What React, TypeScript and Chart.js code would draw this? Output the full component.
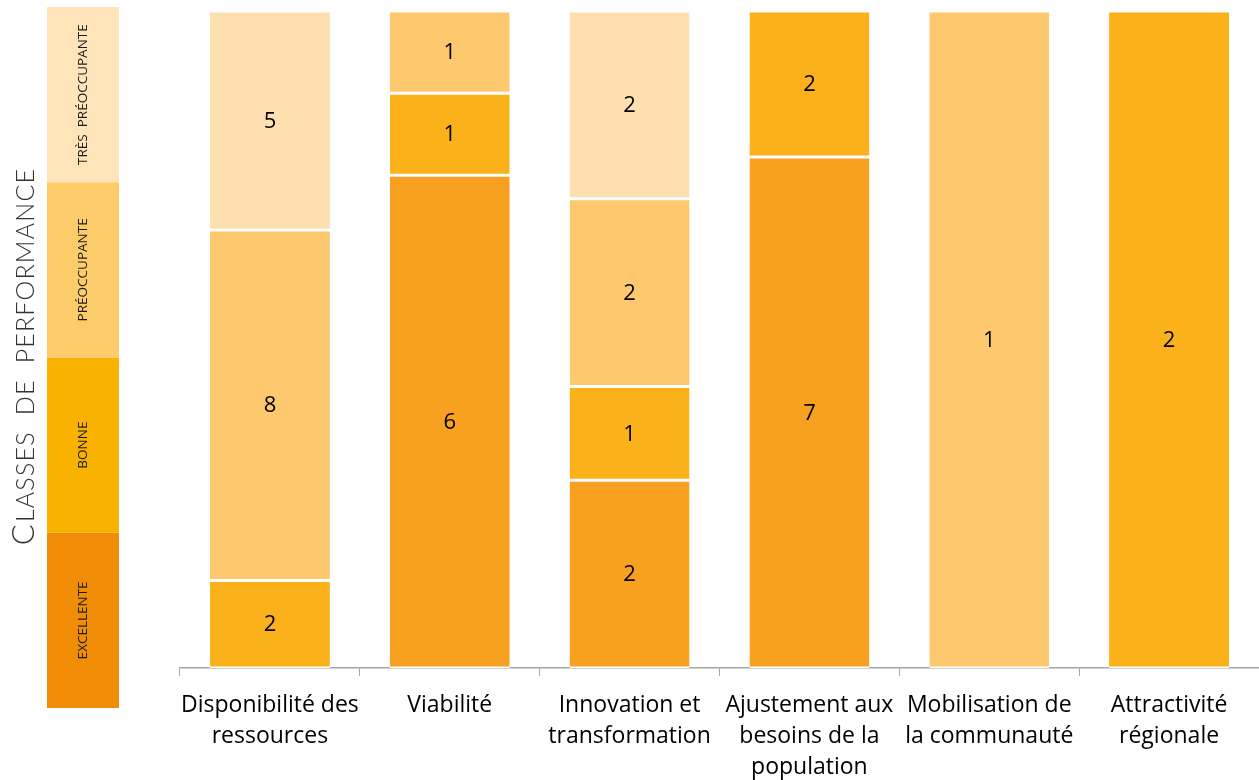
import React, { useEffect, useRef } from "react";
import { Chart, registerables } from "chart.js";

Chart.register(...registerables);

const categories: string[][] = [
  ["Disponibilité des", "ressources"],
  ["Viabilité"],
  ["Innovation et", "transformation"],
  ["Ajustement aux", "besoins de la", "population"],
  ["Mobilisation de", "la communauté"],
  ["Attractivité", "régionale"],
];

const classNames = ["Excellente", "Bonne", "Préoccupante", "Très préoccupante"];
const stripLabels = ["EXCELLENTE", "BONNE", "PRÉOCCUPANTE", "TRÈS  PRÉOCCUPANTE"];

const excellente = [0, 6, 2, 7, 0, 0];
const bonne = [2, 1, 1, 2, 0, 2];
const preoccupante = [8, 1, 2, 0, 1, 0];
const tresPreoccupante = [5, 0, 2, 0, 0, 0];

const barColors = ["#F8A020", "#FBB21A", "#FEC96E", "#FEE0B0"];
const stripColors = ["#F08C05", "#F9B200", "#FDCC6A", "#FEE4B8"];

const series = [excellente, bonne, preoccupante, tresPreoccupante];
const totals = categories.map((_, i) => series.reduce((s, arr) => s + arr[i], 0));

const FONT = "'Open Sans', 'Noto Sans', sans-serif";
const TITLE_FONT = "Lato, 'Open Sans', sans-serif";

const valueLabels = {
  id: "valueLabels",
  afterDatasetsDraw(chart: any) {
    const ctx = chart.ctx;
    ctx.save();
    ctx.fillStyle = "#000";
    ctx.font = `22px ${FONT}`;
    ctx.textAlign = "center";
    ctx.textBaseline = "middle";
    chart.data.datasets.forEach((ds: any, di: number) => {
      const meta = chart.getDatasetMeta(di);
      meta.data.forEach((el: any, i: number) => {
        const v = series[di][i];
        if (!v) return;
        ctx.fillText(String(v), el.x, (el.y + el.base) / 2 + 1);
      });
    });
    ctx.restore();
  },
};

const sideStrip = {
  id: "sideStrip",
  afterDraw(chart: any) {
    const ctx = chart.ctx;
    ctx.save();
    const x0 = 47, x1 = 119, yTop = 7, yBot = 708;
    const h = (yBot - yTop) / 4;
    for (let k = 0; k < 4; k++) {
      const yb = yBot - k * h;
      ctx.fillStyle = stripColors[k];
      ctx.fillRect(x0, yb - h, x1 - x0, h);
      ctx.save();
      ctx.translate((x0 + x1) / 2, yb - h / 2);
      ctx.rotate(-Math.PI / 2);
      ctx.fillStyle = "#1a1a1a";
      ctx.font = `13.5px ${FONT}`;
      ctx.textAlign = "center";
      ctx.textBaseline = "middle";
      ctx.fillText(stripLabels[k], 0, 0);
      ctx.restore();
    }
    // Title in small caps
    ctx.save();
    ctx.translate(22, 357);
    ctx.rotate(-Math.PI / 2);
    ctx.fillStyle = "#333";
    const big = "C";
    const rest = "LASSES  DE  PERFORMANCE";
    (ctx as any).letterSpacing = "1.2px";
    ctx.font = `300 31px ${TITLE_FONT}`;
    const wBig = ctx.measureText(big).width;
    ctx.font = `300 25px ${TITLE_FONT}`;
    const wRest = ctx.measureText(rest).width;
    const start = -(wBig + wRest) / 2;
    ctx.textAlign = "left";
    ctx.textBaseline = "alphabetic";
    ctx.font = `300 31px ${TITLE_FONT}`;
    ctx.fillText(big, start, 12);
    ctx.font = `300 25px ${TITLE_FONT}`;
    ctx.fillText(rest, start + wBig + 1, 12);
    (ctx as any).letterSpacing = "0px";
    ctx.restore();
    ctx.restore();
  },
};

export default function App() {
  const ref = useRef<HTMLCanvasElement | null>(null);
  useEffect(() => {
    if (!ref.current) return;
    const datasets = series.map((arr, k) => ({
      label: classNames[k],
      data: arr.map((v, i) => (v / totals[i]) * 100),
      backgroundColor: barColors[k],
      borderColor: "#ffffff",
      borderWidth: { top: 1.5, bottom: 1.5, left: 0, right: 0 },
      borderSkipped: false,
      barPercentage: 0.667,
      categoryPercentage: 1,
    }));
    const chart = new Chart(ref.current, {
      type: "bar",
      data: { labels: categories, datasets },
      options: {
        animation: false,
        responsive: false,
        maintainAspectRatio: false,
        layout: { padding: { left: 180, top: 11, right: -3, bottom: 0 } },
        plugins: { legend: { display: false }, tooltip: { enabled: false } },
        scales: {
          x: {
            stacked: true,
            offset: true,
            grid: {
              display: true,
              drawOnChartArea: false,
              drawTicks: true,
              tickLength: 8,
              color: "#a6a6a6",
              offset: true,
            },
            border: { display: true, color: "#a6a6a6", width: 1.5 },
            ticks: {
              color: "#000",
              font: { family: FONT, size: 23, lineHeight: 1.35 },
              padding: 14,
              maxRotation: 0,
              autoSkip: false,
            },
            afterFit: (s: any) => {
              s.height = 112;
            },
          },
          y: {
            stacked: true,
            display: false,
            min: 0,
            max: 100,
          },
        },
      },
      plugins: [valueLabels, sideStrip],
    });
    return () => chart.destroy();
  }, []);
  return (
    <div style={{ position: "fixed", left: 0, top: 0, width: 1259, height: 780, background: "#fff" }}>
      <canvas ref={ref} width={1259} height={780} style={{ display: "block" }} />
    </div>
  );
}
